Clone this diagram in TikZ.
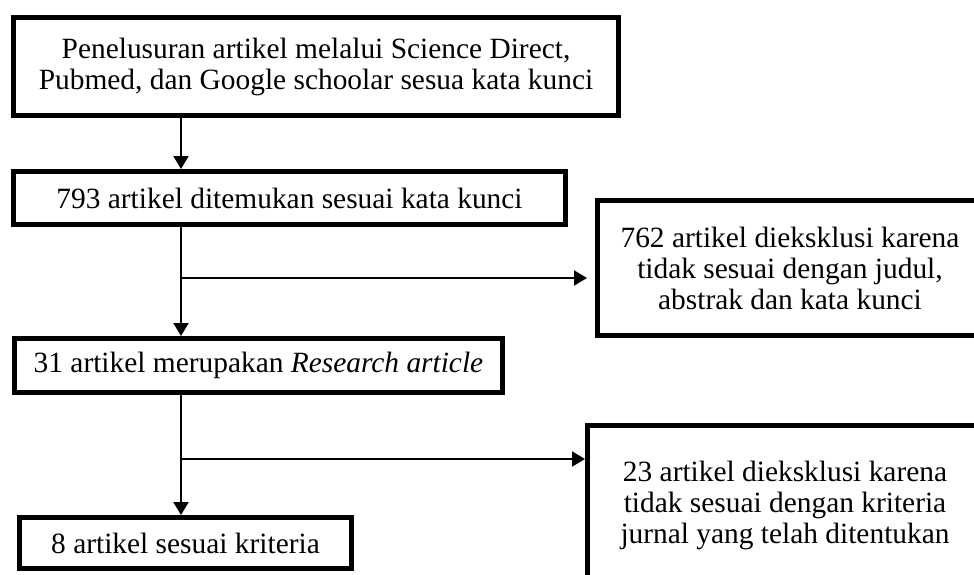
\documentclass[tikz,border=0pt]{standalone}
\usepackage{fontspec}
\setmainfont{Liberation Serif}
\usetikzlibrary{arrows.meta}

\begin{document}
\begin{tikzpicture}[x=0.5pt,y=-0.5pt,>={Triangle[length=6.5pt,width=7.5pt]},
flowbox/.style={draw,rectangle,line width=2.5pt,inner sep=2pt,align=center,font=\fontsize{14.7}{15.5}\selectfont},
link/.style={line width=1pt}]
\useasboundingbox (0,0) rectangle (974,574);
\clip (0,0) rectangle (974,574);
\draw (316,66.5) node[flowbox,minimum width=302.5pt,minimum height=49pt] (search) {Penelusuran artikel melalui Science Direct,\\Pubmed, dan Google schoolar sesua kata kunci};
\draw (289.5,198) node[flowbox,minimum width=276pt,minimum height=26.5pt] (found) {793 artikel ditemukan sesuai kata kunci};
\draw (790,268) node[flowbox,minimum width=192.5pt,minimum height=67.5pt] (excl1) {762 artikel dieksklusi karena\\tidak sesuai dengan judul,\\abstrak dan kata kunci};
\draw (258.5,365.5) node[flowbox,minimum width=244pt,minimum height=27pt] (research) {31 artikel merupakan \textit{Research article}};
\draw (785,505) node[flowbox,minimum width=197.5pt,minimum height=79.5pt] (excl2) {23 artikel dieksklusi karena\\tidak sesuai dengan kriteria\\jurnal yang telah ditentukan};
\draw (185.5,543) node[flowbox,minimum width=166pt,minimum height=25.5pt] (final) {8 artikel sesuai kriteria};
\coordinate (spine) at (181,0);
\coordinate (fork1) at (181,278);
\coordinate (fork2) at (181,459);
\draw[link,->] (search.south -| spine) -- (found.north -| spine);
\draw[link,->] (found.south -| spine) -- (research.north -| spine);
\draw[link,->,shorten >=4pt] (fork1) -- (fork1 -| excl1.west);
\draw[link,->] (research.south -| spine) -- (final.north -| spine);
\draw[link,->] (fork2) -- (fork2 -| excl2.west);
\end{tikzpicture}
\end{document}
